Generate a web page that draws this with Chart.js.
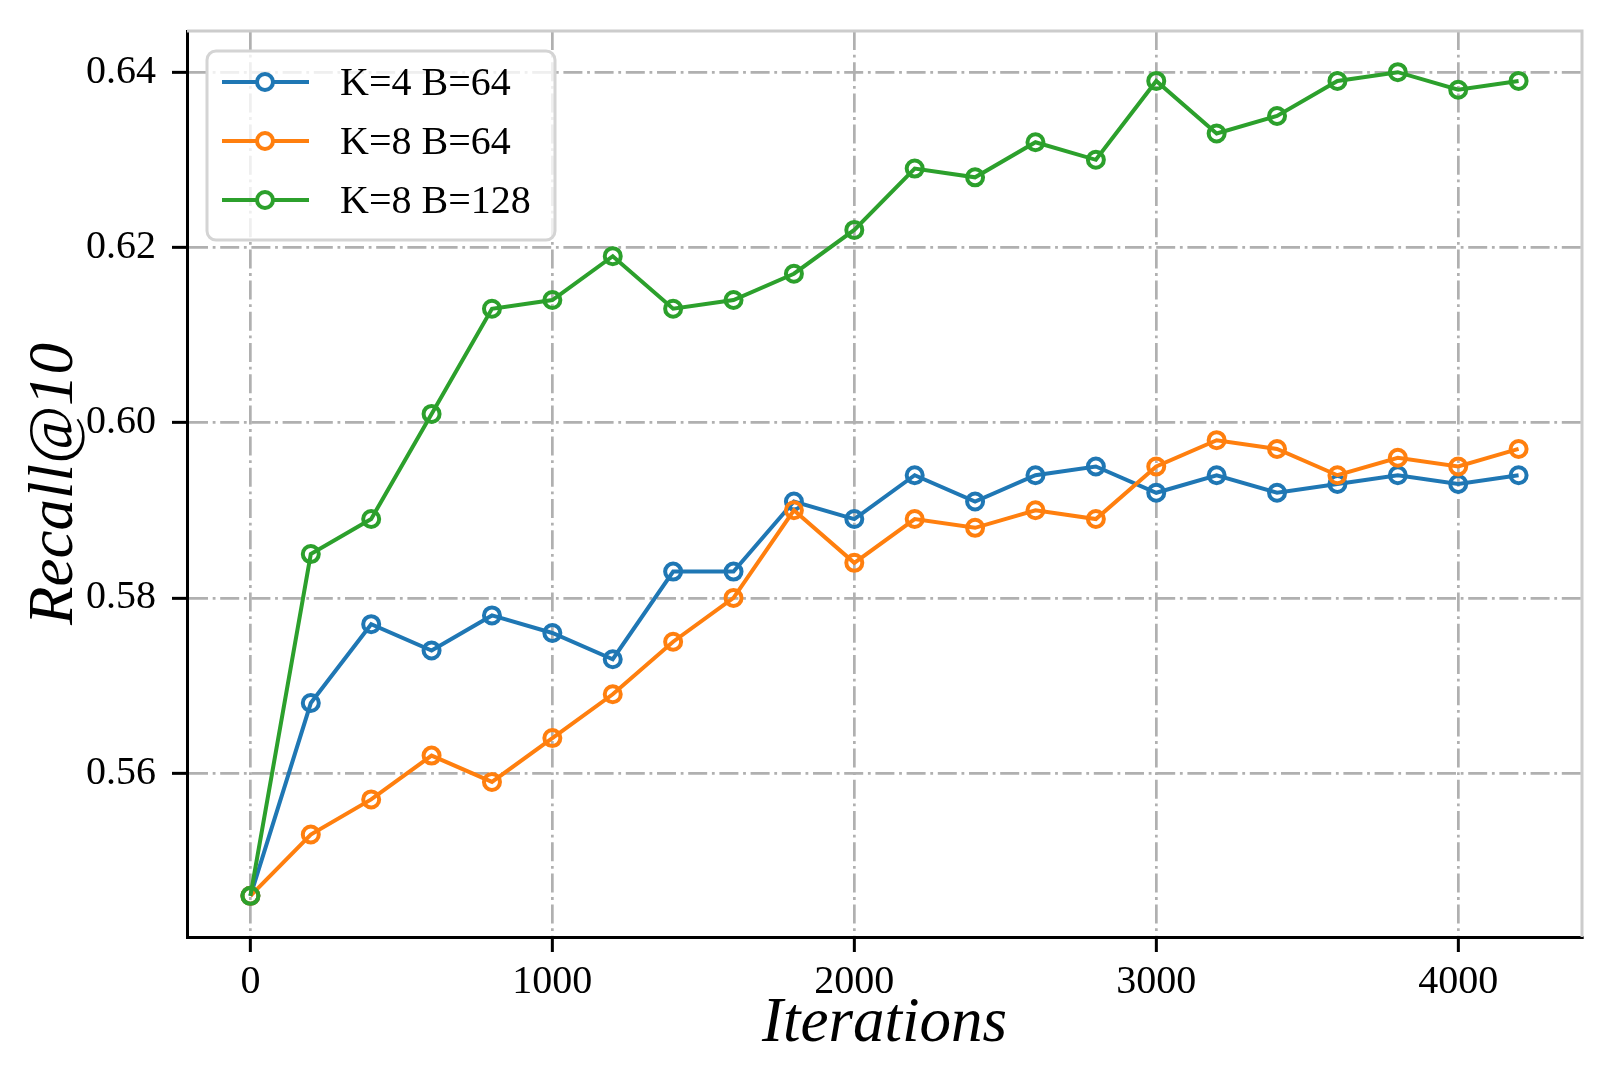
<!DOCTYPE html>
<html>
<head>
<meta charset="utf-8">
<script src="https://cdn.jsdelivr.net/npm/chart.js@4/dist/chart.umd.min.js"></script>
<style>
  body { margin: 0; background: #fff; }
</style>
</head>
<body>
<canvas id="grafico" width="1611" height="1087"></canvas>
<script>
const iteracoes = [0, 200, 400, 600, 800, 1000, 1200, 1400, 1600, 1800, 2000,
  2200, 2400, 2600, 2800, 3000, 3200, 3400, 3600, 3800, 4000, 4200];

const k4b64 = [0.546, 0.568, 0.577, 0.574, 0.578, 0.576, 0.573, 0.583, 0.583, 0.591, 0.589,
  0.594, 0.591, 0.594, 0.595, 0.592, 0.594, 0.592, 0.593, 0.594, 0.593, 0.594];
const k8b64 = [0.546, 0.553, 0.557, 0.562, 0.559, 0.564, 0.569, 0.575, 0.580, 0.590, 0.584,
  0.589, 0.588, 0.590, 0.589, 0.595, 0.598, 0.597, 0.594, 0.596, 0.595, 0.597];
const k8b128 = [0.546, 0.585, 0.589, 0.601, 0.613, 0.614, 0.619, 0.613, 0.614, 0.617, 0.622,
  0.629, 0.628, 0.632, 0.630, 0.639, 0.633, 0.635, 0.639, 0.640, 0.638, 0.639];

const rotulos = ["K=4 B=64", "K=8 B=64", "K=8 B=128"];
const cores = ["#1f77b4", "#ff7f0e", "#2ca02c"];

const xTicks = [0, 1000, 2000, 3000, 4000];
const yTicks = [0.56, 0.58, 0.60, 0.62, 0.64];

const fonte = "'Liberation Serif', 'Times New Roman', serif";
const tracoPonto = [19, 4.7, 2.8, 4.7];

function serie(valores, i) {
  return {
    label: rotulos[i],
    data: valores.map((v, j) => ({ x: iteracoes[j], y: v })),
    borderColor: cores[i],
    backgroundColor: cores[i],
    borderWidth: 4,
    pointRadius: 8,
    pointHoverRadius: 8,
    pointBorderWidth: 4,
    pointBackgroundColor: "rgba(0,0,0,0)",
    pointBorderColor: cores[i],
    tension: 0,
    order: 2 - i
  };
}

function semPadding(s) {
  s.paddingTop = 0;
  s.paddingBottom = 0;
  s.paddingLeft = 0;
  s.paddingRight = 0;
}

// spines de cima e da direita, e legenda estilo matplotlib
const extras = {
  id: "extras",
  afterDatasetsDraw(chart) {
    const { ctx, chartArea: a } = chart;
    ctx.save();
    ctx.strokeStyle = "#cccccc";
    ctx.lineWidth = 3;
    ctx.beginPath();
    ctx.moveTo(a.left, a.top);
    ctx.lineTo(a.right, a.top);
    ctx.lineTo(a.right, a.bottom);
    ctx.stroke();

    // legenda
    const bx = a.left + 20, by = a.top + 20, bw = 348, bh = 189, r = 9;
    ctx.beginPath();
    ctx.roundRect(bx, by, bw, bh, r);
    ctx.fillStyle = "rgba(255,255,255,0.8)";
    ctx.fill();
    ctx.strokeStyle = "#d4d4d4";
    ctx.lineWidth = 3;
    ctx.stroke();

    ctx.font = "40px " + fonte;
    ctx.textBaseline = "middle";
    ctx.textAlign = "left";
    chart.data.datasets.forEach((ds, i) => {
      const yy = a.top + 51 + i * 59;
      ctx.strokeStyle = ds.borderColor;
      ctx.lineWidth = 4;
      ctx.beginPath();
      ctx.moveTo(a.left + 35, yy);
      ctx.lineTo(a.left + 122, yy);
      ctx.stroke();
      ctx.beginPath();
      ctx.arc(a.left + 78, yy, 8, 0, Math.PI * 2);
      ctx.fillStyle = "#fff";
      ctx.fill();
      ctx.stroke();
      ctx.fillStyle = "#000";
      ctx.fillText(ds.label, a.left + 153, yy + 2);
    });
    ctx.restore();
  }
};

new Chart(document.getElementById("grafico"), {
  type: "line",
  data: {
    datasets: [serie(k4b64, 0), serie(k8b64, 1), serie(k8b128, 2)]
  },
  options: {
    responsive: false,
    animation: false,
    devicePixelRatio: 1,
    layout: { padding: { top: 31, right: 29, left: 0, bottom: 0 } },
    plugins: { legend: { display: false }, tooltip: { enabled: false } },
    scales: {
      x: {
        type: "linear",
        min: -210,
        max: 4410,
        afterBuildTicks: s => { s.ticks = xTicks.map(v => ({ value: v })); },
        afterFit: s => { s.height = 150; semPadding(s); },
        ticks: {
          color: "#000",
          padding: 10,
          maxRotation: 0,
          font: { family: fonte, size: 40, lineHeight: 1 },
          callback: v => String(v)
        },
        grid: {
          color: "#b0b0b0",
          lineWidth: 2.7,
          tickColor: "#000",
          tickWidth: 3,
          tickLength: 15
        },
        border: { display: true, color: "#000", width: 3, dash: tracoPonto },
        title: {
          display: true,
          text: "Iterations",
          color: "#000",
          font: { family: fonte, size: 63, style: "italic", lineHeight: 1 },
          padding: { top: 0, bottom: 31 }
        }
      },
      y: {
        type: "linear",
        min: 0.5413,
        max: 0.6447,
        afterBuildTicks: s => { s.ticks = yTicks.map(v => ({ value: v })); },
        afterFit: s => { s.width = 187; semPadding(s); },
        ticks: {
          color: "#000",
          padding: 16,
          font: { family: fonte, size: 40, lineHeight: 1 },
          callback: v => v.toFixed(2)
        },
        grid: {
          color: "#b0b0b0",
          lineWidth: 2.7,
          tickColor: "#000",
          tickWidth: 3,
          tickLength: 15
        },
        border: { display: true, color: "#000", width: 3, dash: tracoPonto },
        title: {
          display: true,
          text: "Recall@10",
          color: "#000",
          font: { family: fonte, size: 63, style: "italic", lineHeight: 1 },
          padding: { top: 24, bottom: 0 }
        }
      }
    }
  },
  plugins: [extras]
});
</script>
</body>
</html>
